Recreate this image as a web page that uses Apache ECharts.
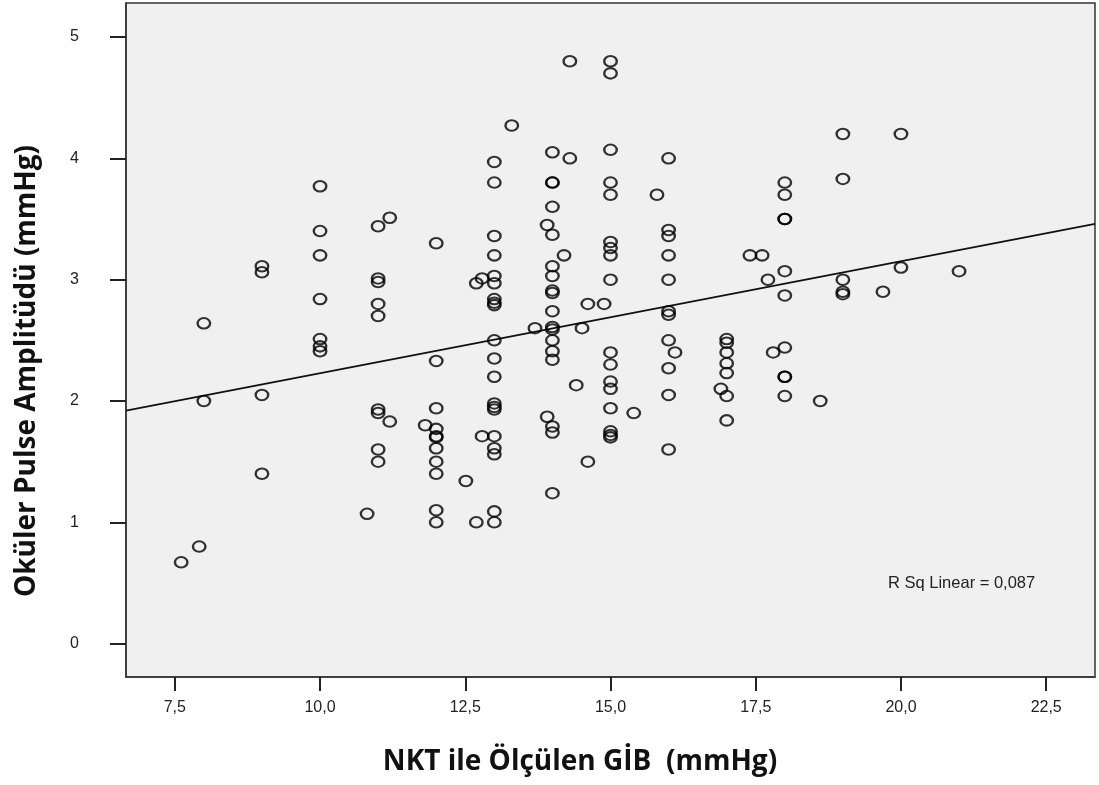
<!DOCTYPE html>
<html>
<head>
<meta charset="utf-8">
<script src="https://cdn.jsdelivr.net/npm/echarts@6/dist/echarts.min.js"></script>
<style>
  html, body { margin: 0; padding: 0; background: #fff; }
  #chart { width: 1099px; height: 785px; }
</style>
</head>
<body>
<div id="chart"></div>
<script>
// NKT ile ölçülen GİB (x) - Oküler pulse amplitüdü (y)
// her sütun: [x, [y değerleri]]
var columns = [
    [7.61, [0.67]],
    [7.92, [0.80]],
    [8.0, [2.64, 2.00]],
    [9.0, [3.11, 3.06, 2.05, 1.40]],
    [10.0, [3.77, 3.40, 3.20, 2.84, 2.51, 2.45, 2.41]],
    [10.81, [1.07]],
    [11.0, [3.44, 3.01, 2.98, 2.80, 2.70, 1.93, 1.90, 1.60, 1.50]],
    [11.2, [3.51, 1.83]],
    [11.81, [1.80]],
    [12.0, [3.30, 2.33, 1.94, 1.77, 1.71, 1.70, 1.61, 1.50, 1.40, 1.10, 1.00]],
    [12.51, [1.34]],
    [12.69, [2.97, 1.00]],
    [12.79, [3.01, 1.71]],
    [13.0, [3.97, 3.80, 3.36, 3.20, 3.03, 2.97, 2.84, 2.81, 2.79, 2.50, 2.35, 2.20, 1.98, 1.95, 1.93, 1.71, 1.61, 1.56, 1.09, 1.00]],
    [13.3, [4.27]],
    [13.7, [2.60]],
    [13.91, [3.45, 1.87]],
    [14.0, [4.05, 3.80, 3.80, 3.60, 3.37, 3.11, 3.03, 2.91, 2.89, 2.74, 2.61, 2.59, 2.50, 2.41, 2.34, 1.79, 1.74, 1.24]],
    [14.2, [3.20]],
    [14.3, [4.80, 4.00]],
    [14.41, [2.13]],
    [14.51, [2.60]],
    [14.61, [2.80, 1.50]],
    [14.89, [2.80]],
    [15.0, [4.80, 4.70, 4.07, 3.80, 3.70, 3.31, 3.26, 3.20, 3.00, 2.40, 2.30, 2.16, 2.10, 1.94, 1.75, 1.72, 1.70]],
    [15.4, [1.90]],
    [15.8, [3.70]],
    [16.0, [4.00, 3.41, 3.36, 3.20, 3.00, 2.74, 2.71, 2.50, 2.27, 2.05, 1.60]],
    [16.11, [2.40]],
    [16.9, [2.10]],
    [17.0, [2.51, 2.48, 2.40, 2.31, 2.23, 2.04, 1.84]],
    [17.4, [3.20]],
    [17.61, [3.20]],
    [17.71, [3.00]],
    [17.8, [2.40]],
    [18.0, [3.80, 3.70, 3.50, 3.50, 3.07, 2.87, 2.44, 2.20, 2.20, 2.04]],
    [18.61, [2.00]],
    [19.0, [4.20, 3.83, 3.00, 2.90, 2.88]],
    [19.69, [2.90]],
    [20.0, [4.20, 3.10]],
    [21.0, [3.07]]
];
// doğrusal uyum: [kesişim, eğim]
var fitLine = [1.305, 0.0923];
var rSqText = 'R Sq Linear = 0,087';
var xTitle = 'NKT ile Ölçülen GİB  (mmHg)';
var yTitle = 'Oküler Pulse Amplitüdü (mmHg)';
var xTicks = [7.5, 10.0, 12.5, 15.0, 17.5, 20.0, 22.5];
var yTicks = [0, 1, 2, 3, 4, 5];
var xRange = [6.66, 23.34];
var yRange = [-0.275, 5.28];

var points = [];
columns.forEach(function (c) {
    c[1].forEach(function (v) { points.push([c[0], v]); });
});
var fitData = xRange.map(function (x) { return [x, fitLine[0] + fitLine[1] * x]; });

var chart = echarts.init(document.getElementById('chart'));
var tickFont = 'Liberation Sans, Arial, sans-serif';
var titleFont = 'bold 28px "Open Sans", sans-serif';
chart.setOption({
    animation: false,
    backgroundColor: '#ffffff',
    grid: {
        left: 126, right: 4, top: 3, bottom: 108,
        show: true, backgroundColor: '#f0f0f0',
        borderColor: '#333', borderWidth: 1.5
    },
    xAxis: {
        type: 'value', min: xRange[0], max: xRange[1],
        axisLine: { show: true, onZero: false, lineStyle: { color: '#333', width: 1.5 } },
        splitLine: { show: false },
        axisTick: { show: true, length: 14, customValues: xTicks, lineStyle: { color: '#222', width: 2 } },
        axisLabel: {
            customValues: xTicks, margin: 23, fontSize: 16, fontFamily: tickFont, color: '#222',
            formatter: function (v) { return v.toFixed(1).replace('.', ','); }
        }
    },
    yAxis: {
        type: 'value', min: yRange[0], max: yRange[1],
        axisLine: { show: true, onZero: false, lineStyle: { color: '#333', width: 1.5 } },
        splitLine: { show: false },
        axisTick: { show: true, length: 16, customValues: yTicks, lineStyle: { color: '#222', width: 2 } },
        axisLabel: { customValues: yTicks, margin: 47, fontSize: 16, fontFamily: tickFont, color: '#222' }
    },
    graphic: [{
        type: 'text', x: 888, y: 583,
        style: { text: rSqText, font: '16.5px Liberation Sans, Arial, sans-serif', fill: '#222', verticalAlign: 'middle' }
    }, {
        type: 'text', x: 580, y: 762,
        style: { text: xTitle, font: titleFont, fill: '#111', align: 'center', verticalAlign: 'middle' }
    }, {
        type: 'text', x: 27, y: 371, rotation: Math.PI / 2,
        style: { text: yTitle, font: titleFont, fill: '#111', align: 'center', verticalAlign: 'middle' }
    }],
    series: [{
        type: 'line', data: fitData, symbol: 'none', silent: true,
        lineStyle: { color: '#111', width: 1.8 }, z: 3
    }, {
        type: 'scatter', data: points, symbol: 'circle', symbolSize: [12.5, 10.5],
        itemStyle: { color: 'rgba(0,0,0,0)', borderColor: '#000', borderWidth: 2.2 }, z: 4
    }]
});
</script>
</body>
</html>
